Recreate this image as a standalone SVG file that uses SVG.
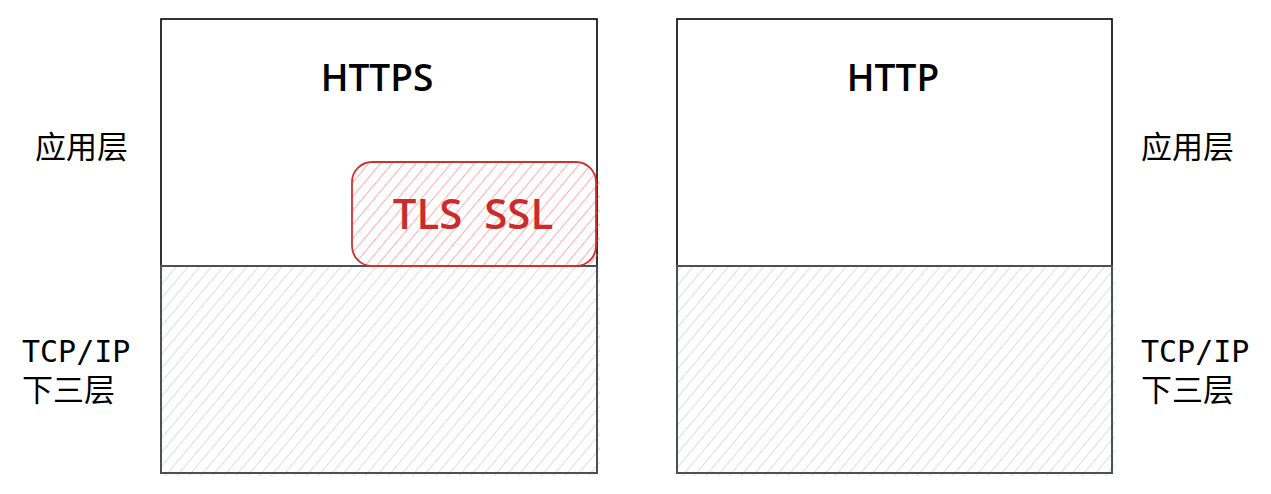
<svg xmlns="http://www.w3.org/2000/svg" width="1271" height="494" viewBox="0 0 1271 494">
<style>
.box{fill:none;stroke:#000;stroke-width:1.6}
.low{fill:none;stroke:#495057;stroke-width:2}
.title{font-family:"Open Sans","Noto Sans",sans-serif;font-size:37px;font-weight:600;fill:#000;text-anchor:middle}
.lbl{font-family:"DejaVu Sans Mono","Noto Sans CJK SC",monospace;font-size:30px;fill:#000}
.cjk{font-family:"Noto Sans CJK SC",sans-serif;font-size:31px;fill:#000}
.tls{font-family:"Open Sans","Noto Sans",sans-serif;font-size:42px;font-weight:600;fill:#cc2b2b;text-anchor:middle}
</style>
<defs>
<pattern id="hg" patternUnits="userSpaceOnUse" width="9" height="9" patternTransform="rotate(40)">
<line x1="0" y1="0" x2="0" y2="9" stroke="#bcc2c8" stroke-width="1.1"/>
</pattern>
<pattern id="hr" patternUnits="userSpaceOnUse" width="9" height="9" patternTransform="rotate(40)">
<line x1="0" y1="0" x2="0" y2="9" stroke="#ff6b6b" stroke-width="1.1"/>
</pattern>
</defs>
<g id="https-app">
<rect class="box" x="161" y="19" width="436" height="247"/>
<text class="title" x="377" y="91">HTTPS</text>
</g>
<g id="https-low">
<rect x="162" y="267" width="438" height="209" fill="url(#hg)"/>
<rect class="low" x="161" y="266" width="436" height="207"/>
</g>
<g id="tls">
<rect x="353" y="163" width="247" height="104" rx="20" fill="url(#hr)"/>
<rect x="352" y="162" width="244" height="104" rx="20" fill="none" stroke="#d32f2f" stroke-width="1.8"/>
<text class="tls" x="473" y="229" xml:space="preserve">TLS  SSL</text>
</g>
<g id="http-app">
<rect class="box" x="677" y="19" width="435" height="247"/>
<text class="title" x="893" y="91">HTTP</text>
</g>
<g id="http-low">
<rect x="678" y="267" width="437" height="209" fill="url(#hg)"/>
<rect class="low" x="677" y="266" width="435" height="207"/>
</g>
<g id="labels-left">
<text class="cjk" x="35" y="158">应用层</text>
<text class="lbl" x="22" y="362">TCP/IP</text>
<text class="cjk" x="22" y="401">下三层</text>
</g>
<g id="labels-right">
<text class="cjk" x="1141" y="158">应用层</text>
<text class="lbl" x="1141" y="362">TCP/IP</text>
<text class="cjk" x="1141" y="401">下三层</text>
</g>
<g id="connectors"/>
</svg>
